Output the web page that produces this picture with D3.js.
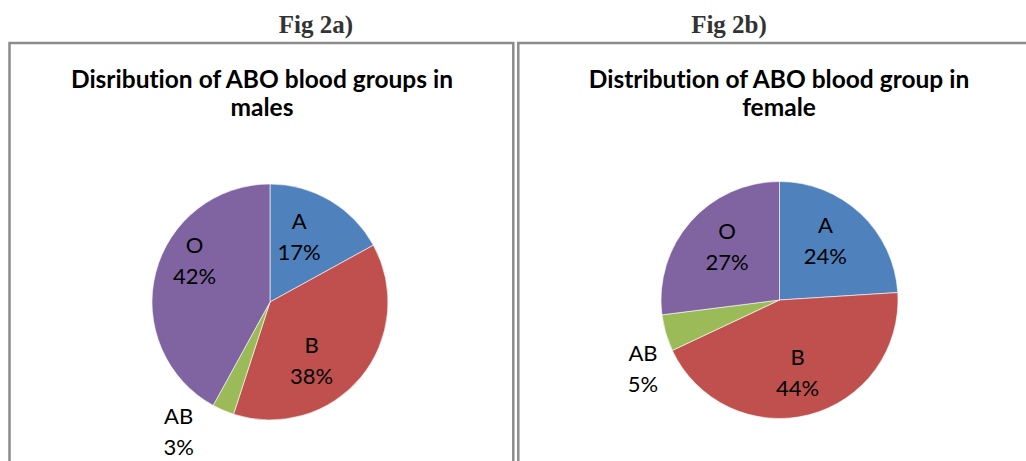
<!DOCTYPE html>
<html>
<head>
<meta charset="utf-8">
<script src="https://d3js.org/d3.v7.min.js"></script>
<style>
  html, body { margin: 0; padding: 0; background: #fff; }
  svg { display: block; }
  text { font-variant-ligatures: none; }
</style>
</head>
<body>
<svg id="chart" width="1026" height="461"></svg>
<script>
// ---- data ----
const categories = ["A", "B", "AB", "O"];
const maleValues = [17, 38, 3, 42];
const femaleValues = [24, 44, 5, 27];
const figLabels = ["Fig 2a)", "Fig 2b)"];
const chartTitles = [
  ["Disribution of ABO blood groups in", "males"],
  ["Distribution of ABO blood group in", "female"]
];
const colors = ["#4F81BD", "#C0504D", "#9BBB59", "#8064A2"];

// label placement (radius as fraction of pie radius, angle nudge in degrees)
const maleLabelPlace = [[0.60, -6.3], [0.614, 15.3], [1.347, 11.7], [0.726, 14.0]];
const femaleLabelPlace = [[0.633, -5.5], [0.635, 0.5], [1.291, -10.6], [0.628, 3.7]];

const svg = d3.select("#chart");

const panels = [
  { x0: 9.5, x1: 513.3, figX: 316, cx: 270, cy: 302, r: 118, values: maleValues, place: maleLabelPlace, titleX: 262 },
  { x0: 518.3, x1: 1040, figX: 729, cx: 779.5, cy: 300, r: 118.5, values: femaleValues, place: femaleLabelPlace, titleX: 779 }
];

panels.forEach((p, i) => {
  svg.append("text")
    .attr("x", p.figX).attr("y", 33)
    .attr("text-anchor", "middle")
    .attr("font-family", "'Liberation Serif', 'Times New Roman', serif")
    .attr("font-weight", "bold")
    .attr("font-size", 25)
    .attr("fill", "#333")
    .text(figLabels[i]);

  svg.append("rect")
    .attr("x", p.x0).attr("y", 43)
    .attr("width", p.x1 - p.x0).attr("height", 500)
    .attr("fill", "none")
    .attr("stroke", "#8c8c8c")
    .attr("stroke-width", 2.5);

  const t = svg.append("text")
    .attr("text-anchor", "middle")
    .attr("font-family", "Lato, 'Open Sans', sans-serif")
    .attr("font-weight", "bold")
    .attr("font-size", 24.5)
    .attr("fill", "#000");
  chartTitles[i].forEach((line, j) => {
    t.append("tspan").attr("x", p.titleX).attr("y", 88 + j * 28).text(line);
  });

  const data = categories.map((c, k) => ({ cat: c, value: p.values[k], idx: k }));
  const pie = d3.pie().value(d => d.value).sort(null);
  const arcs = pie(data);
  const arc = d3.arc().innerRadius(0).outerRadius(p.r);
  const g = svg.append("g").attr("transform", `translate(${p.cx},${p.cy})`);
  g.selectAll("path").data(arcs).enter().append("path")
    .attr("d", arc)
    .attr("fill", d => colors[d.data.idx])
    .attr("stroke", "#fff")
    .attr("stroke-width", 0.6);

  arcs.forEach(a => {
    const pl = p.place[a.data.idx];
    const mid = (a.startAngle + a.endAngle) / 2 + pl[1] * Math.PI / 180;
    const rr = pl[0] * p.r;
    const lx = Math.sin(mid) * rr;
    const ly = -Math.cos(mid) * rr;
    const txt = g.append("text")
      .attr("text-anchor", "middle")
      .attr("font-family", "Lato, 'Open Sans', sans-serif")
      .attr("font-size", 22)
      .attr("fill", "#000");
    txt.append("tspan").attr("x", lx).attr("y", ly - 8).text(a.data.cat);
    txt.append("tspan").attr("x", lx).attr("y", ly + 23).text(a.data.value + "%");
  });
});
</script>
</body>
</html>
